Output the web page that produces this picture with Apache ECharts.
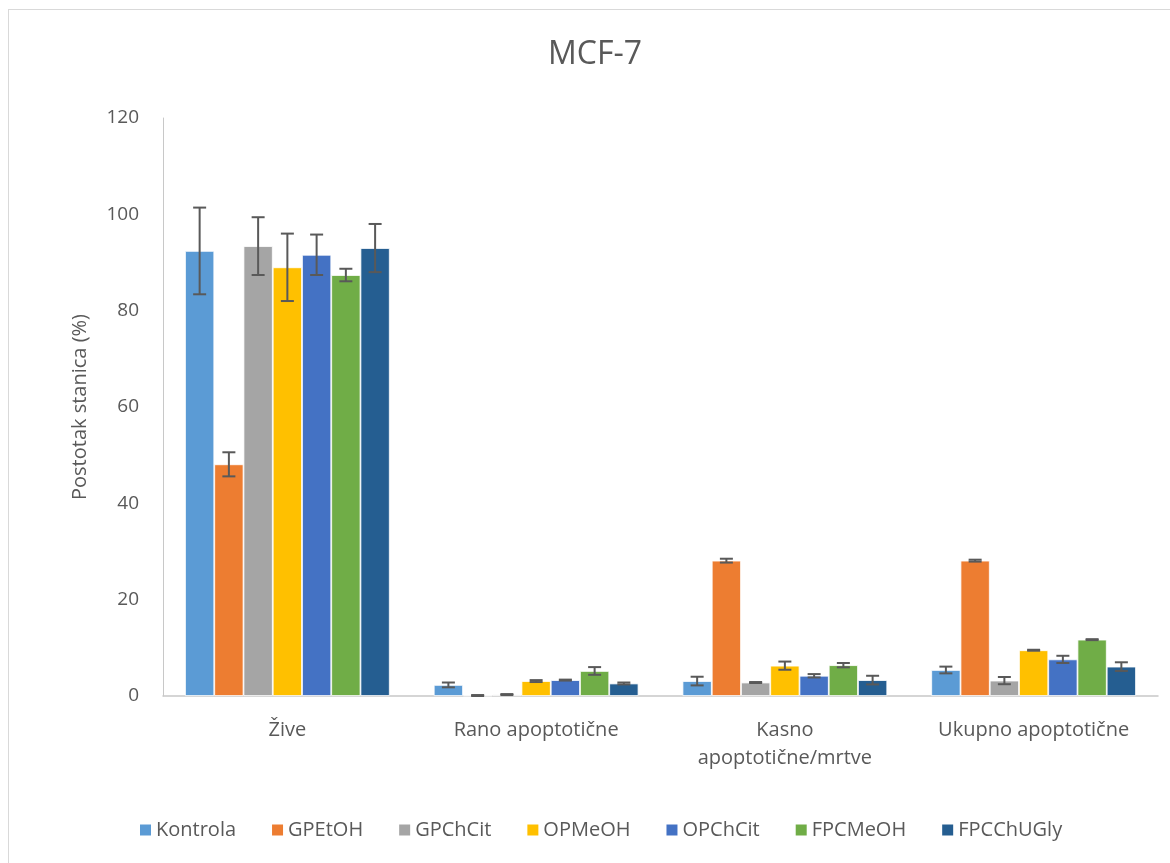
<!DOCTYPE html>
<html>
<head>
<meta charset="utf-8">
<script src="https://cdn.jsdelivr.net/npm/echarts@6/dist/echarts.min.js"></script>
<style>
html,body{margin:0;padding:0;background:#fff;}
#frame{position:absolute;left:8px;top:9px;width:1180px;height:880px;border:1.5px solid #d9d9d9;box-sizing:border-box;}
#chart{position:absolute;left:0;top:0;width:1170px;height:863px;}
</style>
</head>
<body>
<div id="frame"></div>
<div id="chart"></div>
<script>
const categories = ['Žive', 'Rano apoptotične', 'Kasno\napoptotične/mrtve', 'Ukupno apoptotične'];
const seriesNames = ['Kontrola', 'GPEtOH', 'GPChCit', 'OPMeOH', 'OPChCit', 'FPCMeOH', 'FPCChUGly'];
const colors = ['#5B9BD5', '#ED7D31', '#A5A5A5', '#FFC000', '#4472C4', '#70AD47', '#255E91'];

const kontrola   = [92.4, 2.3, 3.1, 5.4];
const gpetoh     = [48.1, 0.1, 28.1, 28.1];
const gpchcit    = [93.4, 0.3, 2.8, 3.2];
const opmeoh     = [89.0, 3.1, 6.3, 9.5];
const opchcit    = [91.6, 3.3, 4.2, 7.6];
const fpcmeoh    = [87.4, 5.2, 6.4, 11.7];
const fpcchugly  = [93.0, 2.6, 3.3, 6.1];

const errKontrola  = [9.0, 0.5, 0.9, 0.7];
const errGpetoh    = [2.5, 0.1, 0.4, 0.2];
const errGpchcit   = [6.0, 0.1, 0.1, 0.75];
const errOpmeoh    = [7.0, 0.2, 0.85, 0.1];
const errOpchcit   = [4.2, 0.1, 0.35, 0.75];
const errFpcmeoh   = [1.3, 0.8, 0.45, 0.1];
const errFpcchugly = [5.0, 0.2, 0.9, 0.9];

const yTicks = [0, 20, 40, 60, 80, 100, 120];

const values = [kontrola, gpetoh, gpchcit, opmeoh, opchcit, fpcmeoh, fpcchugly];
const errors = [errKontrola, errGpetoh, errGpchcit, errOpmeoh, errOpchcit, errFpcmeoh, errFpcchugly];

const CAT_GAP = 0.177;
const N = seriesNames.length;
const textColor = '#595959';
const font = 'Open Sans';

const series = [];
values.forEach((vals, i) => {
  series.push({
    name: seriesNames[i],
    type: 'bar',
    data: vals,
    barGap: '0%',
    barCategoryGap: (CAT_GAP * 100) + '%',
    itemStyle: { color: colors[i], borderColor: '#ffffff', borderWidth: 0.8 },
    emphasis: { disabled: true },
    z: 2
  });
});
values.forEach((vals, i) => {
  series.push({
    name: seriesNames[i] + '_err',
    type: 'custom',
    data: vals.map((v, c) => [c, v, errors[i][c]]),
    encode: { x: 0, y: 1 },
    z: 5,
    silent: true,
    renderItem: function (params, api) {
      const c = api.value(0), v = api.value(1), e = api.value(2);
      const band = api.size([1, 0])[0];
      const bw = band * (1 - CAT_GAP) / N;
      const off = (i - (N - 1) / 2) * bw;
      const top = api.coord([c, v + e]);
      const bot = api.coord([c, Math.max(v - e, 0)]);
      const x = top[0] + off;
      const cap = 6.5;
      const st = { stroke: '#595959', lineWidth: 2 };
      return {
        type: 'group',
        children: [
          { type: 'line', shape: { x1: x, y1: top[1], x2: x, y2: bot[1] }, style: st },
          { type: 'line', shape: { x1: x - cap, y1: top[1], x2: x + cap, y2: top[1] }, style: st },
          { type: 'line', shape: { x1: x - cap, y1: bot[1], x2: x + cap, y2: bot[1] }, style: st }
        ]
      };
    }
  });
});

const chart = echarts.init(document.getElementById('chart'), null, { renderer: 'canvas' });
chart.setOption({
  animation: false,
  backgroundColor: 'transparent',
  color: colors,
  textStyle: { fontFamily: font },
  title: {
    text: 'MCF-7',
    left: 543,
    top: 34,
    textStyle: { fontFamily: font, fontSize: 32, fontWeight: 'normal', color: textColor }
  },
  legend: {
    data: seriesNames,
    bottom: 18,
    left: 133,
    itemWidth: 13,
    itemHeight: 13,
    itemGap: 34,
    icon: 'rect',
    textStyle: { fontFamily: font, fontSize: 20, color: textColor, padding: [0, 0, 0, -1] }
  },
  grid: { left: 163, right: 12, top: 118, bottom: 167 },
  xAxis: {
    type: 'category',
    data: categories,
    axisLine: { show: true, lineStyle: { color: '#c8c8c8', width: 1.5 } },
    axisTick: { show: false },
    axisLabel: { fontFamily: font, fontSize: 20, color: textColor, margin: 20, lineHeight: 28, interval: 0 },
    splitLine: { show: false }
  },
  yAxis: {
    type: 'value',
    min: yTicks[0],
    max: yTicks[yTicks.length - 1],
    interval: yTicks[1] - yTicks[0],
    name: 'Postotak stanica (%)',
    nameLocation: 'middle',
    nameGap: 73,
    nameTextStyle: { fontFamily: font, fontSize: 20, color: textColor },
    axisLine: { show: true, lineStyle: { color: '#c8c8c8', width: 1 } },
    axisTick: { show: false },
    splitLine: { show: false },
    axisLabel: { fontFamily: font, fontSize: 19, color: textColor, margin: 24 }
  },
  series: series
});
</script>
</body>
</html>
